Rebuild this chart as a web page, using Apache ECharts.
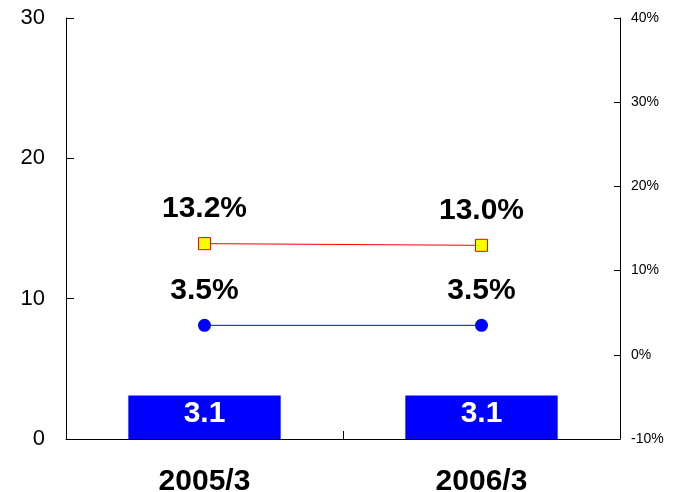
<!DOCTYPE html>
<html>
<head>
<meta charset="utf-8">
<script src="https://cdn.jsdelivr.net/npm/echarts@6/dist/echarts.min.js"></script>
<style>
  html, body { margin: 0; padding: 0; background: #fff; }
  #chart { width: 676px; height: 492px; }
</style>
</head>
<body>
<div id="chart"></div>
<script>
// 数据
const categories = ["2005/3", "2006/3"];
const barValues = [3.1, 3.1];
const redRates = [13.2, 13.0];
const blueRates = [3.5, 3.5];

const FONT = "Liberation Sans, Arial, sans-serif";

const chart = echarts.init(document.getElementById("chart"), null, { renderer: "canvas" });

const pctLabel = {
  show: true, position: "top", distance: 13,
  color: "#000", fontSize: 30, fontWeight: "bold", fontFamily: FONT,
  formatter: (p) => p.value.toFixed(1) + "%"
};

const option = {
  animation: false,
  textStyle: { fontFamily: FONT },
  grid: { left: 66, right: 56, top: 18, bottom: 53, outerBoundsMode: "none", containLabel: false },
  xAxis: {
    type: "category",
    data: categories,
    boundaryGap: true,
    axisLine: { lineStyle: { color: "#000", width: 1 } },
    axisTick: { show: true, inside: true, length: 8, lineStyle: { color: "#000" } },
    axisLabel: {
      color: "#000", fontSize: 30, fontWeight: "bold", fontFamily: FONT, margin: 28
    }
  },
  yAxis: [
    {
      type: "value",
      min: 0, max: 30, interval: 10,
      axisLine: { show: true, lineStyle: { color: "#000" } },
      axisTick: { show: true, inside: true, length: 8, lineStyle: { color: "#000" } },
      splitLine: { show: false },
      axisLabel: { color: "#000", fontSize: 22, fontFamily: FONT, margin: 21 }
    },
    {
      type: "value",
      min: -10, max: 40, interval: 10,
      position: "right",
      axisLine: { show: true, lineStyle: { color: "#000" } },
      axisTick: { show: true, inside: true, length: 6, lineStyle: { color: "#000" } },
      splitLine: { show: false },
      axisLabel: {
        color: "#000", fontSize: 14, fontFamily: FONT, margin: 11,
        formatter: (v) => v + "%"
      }
    }
  ],
  series: [
    {
      type: "bar",
      data: barValues,
      barWidth: "55%",
      itemStyle: { color: "#0000FF" },
      label: {
        show: true, position: "insideTop", distance: 3,
        color: "#fff", fontSize: 30, fontWeight: "bold", fontFamily: FONT
      }
    },
    {
      type: "line",
      yAxisIndex: 1,
      data: redRates,
      symbol: "rect",
      symbolSize: 12,
      lineStyle: { color: "#FF0000", width: 1 },
      itemStyle: { color: "#FFFF00", borderColor: "#FF0000", borderWidth: 1 },
      label: pctLabel
    },
    {
      type: "line",
      yAxisIndex: 1,
      data: blueRates,
      symbol: "circle",
      symbolSize: 13,
      lineStyle: { color: "#0000FF", width: 1 },
      itemStyle: { color: "#0000FF" },
      label: pctLabel
    }
  ]
};

chart.setOption(option);
</script>
</body>
</html>
